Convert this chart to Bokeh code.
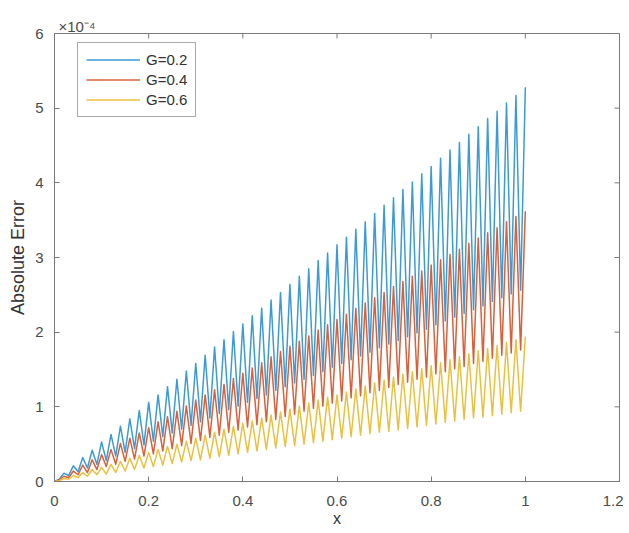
import math
from bokeh.plotting import figure
from bokeh.models import FixedTicker, Legend, LegendItem, Range1d, Title
from bokeh.embed import file_html
from bokeh.resources import INLINE

# ---- data (values in units of 1e-4) ----
series_names = ["G=0.2", "G=0.4", "G=0.6"]

x_peak = [0.02, 0.04, 0.06, 0.08, 0.10, 0.12, 0.14, 0.16, 0.18, 0.20,
          0.22, 0.24, 0.26, 0.28, 0.30, 0.32, 0.34, 0.36, 0.38, 0.40,
          0.42, 0.44, 0.46, 0.48, 0.50, 0.52, 0.54, 0.56, 0.58, 0.60,
          0.62, 0.64, 0.66, 0.68, 0.70, 0.72, 0.74, 0.76, 0.78, 0.80,
          0.82, 0.84, 0.86, 0.88, 0.90, 0.92, 0.94, 0.96, 0.98, 1.00]
x_trough = [0.01, 0.03, 0.05, 0.07, 0.09, 0.11, 0.13, 0.15, 0.17, 0.19,
            0.21, 0.23, 0.25, 0.27, 0.29, 0.31, 0.33, 0.35, 0.37, 0.39,
            0.41, 0.43, 0.45, 0.47, 0.49, 0.51, 0.53, 0.55, 0.57, 0.59,
            0.61, 0.63, 0.65, 0.67, 0.69, 0.71, 0.73, 0.75, 0.77, 0.79,
            0.81, 0.83, 0.85, 0.87, 0.89, 0.91, 0.93, 0.95, 0.97, 0.99]

peak_g02 = [0.11, 0.21, 0.32, 0.42, 0.53, 0.63, 0.74, 0.84, 0.95, 1.06,
            1.16, 1.27, 1.37, 1.48, 1.58, 1.69, 1.80, 1.90, 2.01, 2.11,
            2.22, 2.32, 2.43, 2.53, 2.64, 2.75, 2.85, 2.96, 3.06, 3.17,
            3.27, 3.38, 3.48, 3.59, 3.70, 3.80, 3.91, 4.01, 4.12, 4.22,
            4.33, 4.44, 4.54, 4.65, 4.75, 4.86, 4.96, 5.07, 5.17, 5.28]
trough_g02 = [0.03, 0.08, 0.13, 0.18, 0.23, 0.28, 0.34, 0.39, 0.44, 0.49,
              0.54, 0.60, 0.65, 0.70, 0.75, 0.80, 0.85, 0.91, 0.96, 1.01,
              1.06, 1.11, 1.16, 1.22, 1.27, 1.32, 1.37, 1.42, 1.47, 1.53,
              1.58, 1.63, 1.68, 1.73, 1.79, 1.84, 1.89, 1.94, 1.99, 2.04,
              2.10, 2.15, 2.20, 2.25, 2.30, 2.35, 2.41, 2.46, 2.51, 2.56]

peak_g04 = [0.07, 0.14, 0.22, 0.29, 0.36, 0.43, 0.51, 0.58, 0.65, 0.72,
            0.80, 0.87, 0.94, 1.01, 1.09, 1.16, 1.23, 1.30, 1.38, 1.45,
            1.52, 1.59, 1.67, 1.74, 1.81, 1.88, 1.95, 2.03, 2.10, 2.17,
            2.24, 2.32, 2.39, 2.46, 2.53, 2.61, 2.68, 2.75, 2.82, 2.90,
            2.97, 3.04, 3.11, 3.19, 3.26, 3.33, 3.40, 3.48, 3.55, 3.62]
trough_g04 = [0.02, 0.05, 0.09, 0.12, 0.16, 0.20, 0.23, 0.27, 0.30, 0.34,
              0.37, 0.41, 0.44, 0.48, 0.51, 0.55, 0.59, 0.62, 0.66, 0.69,
              0.73, 0.76, 0.80, 0.83, 0.87, 0.90, 0.94, 0.98, 1.01, 1.05,
              1.08, 1.12, 1.15, 1.19, 1.22, 1.26, 1.30, 1.33, 1.37, 1.40,
              1.44, 1.47, 1.51, 1.54, 1.58, 1.61, 1.65, 1.69, 1.72, 1.76]

peak_g06 = [0.04, 0.08, 0.12, 0.16, 0.19, 0.23, 0.27, 0.31, 0.35, 0.39,
            0.43, 0.47, 0.50, 0.54, 0.58, 0.62, 0.66, 0.70, 0.74, 0.78,
            0.81, 0.85, 0.89, 0.93, 0.97, 1.01, 1.05, 1.09, 1.13, 1.16,
            1.20, 1.24, 1.28, 1.32, 1.36, 1.40, 1.44, 1.47, 1.51, 1.55,
            1.59, 1.63, 1.67, 1.71, 1.75, 1.78, 1.82, 1.86, 1.90, 1.94]
trough_g06 = [0.01, 0.03, 0.05, 0.07, 0.09, 0.10, 0.12, 0.14, 0.16, 0.18,
              0.20, 0.22, 0.24, 0.26, 0.28, 0.29, 0.31, 0.33, 0.35, 0.37,
              0.39, 0.41, 0.43, 0.45, 0.47, 0.48, 0.50, 0.52, 0.54, 0.56,
              0.58, 0.60, 0.62, 0.64, 0.66, 0.67, 0.69, 0.71, 0.73, 0.75,
              0.77, 0.79, 0.81, 0.83, 0.85, 0.86, 0.88, 0.90, 0.92, 0.94]

x_ticks = [0, 0.2, 0.4, 0.6, 0.8, 1.0, 1.2]
x_tick_labels = ["0", "0.2", "0.4", "0.6", "0.8", "1", "1.2"]
y_ticks = [0, 1, 2, 3, 4, 5, 6]
X_MIN, X_MAX, Y_MIN, Y_MAX = 0, 1.2, 0, 6

colors = ["#3C9BD6", "#D9603A", "#EBC03F"]
FONT = "Liberation Sans"
AX = "#7a7a7a"
TXT = "#4a4a4a"


def zigzag(xt, lo, xp, hi):
    xs, ys = [0.0], [0.0]
    for a, b, c, d in zip(xt, lo, xp, hi):
        xs += [a, c]
        ys += [b, d]
    return xs, ys


p = figure(width=623, height=532, output_backend="svg", toolbar_location=None,
           x_range=Range1d(X_MIN, X_MAX), y_range=Range1d(Y_MIN, Y_MAX),
           min_border_left=54, min_border_right=4, min_border_top=33, min_border_bottom=51)
p.background_fill_color = "white"
p.border_fill_color = "white"
p.outline_line_color = AX
p.outline_line_width = 1
p.grid.visible = False

p.xaxis.ticker = FixedTicker(ticks=x_ticks)
p.xaxis.major_label_overrides = {t: l for t, l in zip(x_ticks, x_tick_labels)}
p.yaxis.ticker = FixedTicker(ticks=y_ticks)
for ax in (p.xaxis[0], p.yaxis[0]):
    ax.axis_line_color = AX
    ax.major_tick_line_color = AX
    ax.major_tick_in = 5
    ax.major_tick_out = 0
    ax.minor_tick_line_color = None
    ax.major_label_text_font = FONT
    ax.major_label_text_font_size = "15px"
    ax.major_label_text_color = TXT
    ax.axis_label_text_font = FONT
    ax.axis_label_text_font_style = "normal"
    ax.axis_label_text_color = "#333333"
p.xaxis.axis_label = "x"
p.yaxis.axis_label = "Absolute Error"
p.xaxis.axis_label_text_font_size = "16px"
p.yaxis.axis_label_text_font_size = "18px"
p.xaxis.major_label_standoff = 14
p.yaxis.major_label_standoff = 11
p.xaxis.axis_label_standoff = 1
p.yaxis.axis_label_standoff = 4

# inner ticks on the top and right edges (half of each dash is clipped by the frame)
p.scatter(x_ticks, [Y_MAX] * len(x_ticks), marker="dash", size=10, angle=math.pi / 2,
          line_color=AX, line_width=1)
p.scatter([X_MAX] * len(y_ticks), y_ticks, marker="dash", size=10,
          line_color=AX, line_width=1)

renderers = []
for name, xt, lo, xp, hi, c in [
    (series_names[0], x_trough, trough_g02, x_peak, peak_g02, colors[0]),
    (series_names[1], x_trough, trough_g04, x_peak, peak_g04, colors[1]),
    (series_names[2], x_trough, trough_g06, x_peak, peak_g06, colors[2]),
]:
    xs, ys = zigzag(xt, lo, xp, hi)
    r = p.line(xs, ys, line_color=c, line_width=1.5, line_join="round")
    renderers.append((name, r))

legend = Legend(items=[LegendItem(label=n, renderers=[r]) for n, r in renderers],
                location=(23, 364))
legend.label_text_font = FONT
legend.label_text_font_size = "15px"
legend.label_text_color = "#333333"
legend.border_line_color = "#555555"
legend.border_line_width = 1
legend.glyph_width = 54
legend.glyph_height = 17
legend.label_height = 17
legend.label_standoff = 6
legend.spacing = 3
legend.padding = 8
legend.margin = 0
legend.background_fill_alpha = 1
p.add_layout(legend, "center")

p.add_layout(Title(text="×10⁻⁴", align="left", offset=4, standoff=-2,
                   text_font=FONT, text_font_size="15px", text_font_style="normal",
                   text_color=TXT), "above")

open("out.html", "w").write(file_html(p, INLINE))
